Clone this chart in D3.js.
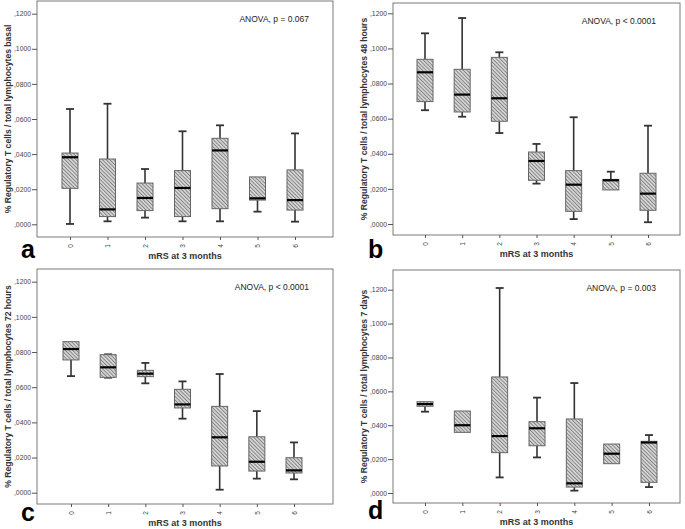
<!DOCTYPE html>
<html>
<head>
<meta charset="utf-8">
<script src="https://cdnjs.cloudflare.com/ajax/libs/d3/7.8.5/d3.min.js"></script>
<style>
  body { margin: 0; background: #fff; }
  svg { display: block; font-family: "Liberation Sans", Arial, sans-serif; }
</style>
</head>
<body>
<svg id="chart" width="685" height="529"></svg>
<script>
// mRS categories
var categories = ["0", "1", "2", "3", "4", "5", "6"];
var yTicks = [0, 0.02, 0.04, 0.06, 0.08, 0.10, 0.12];

// five-number summaries per category: [min, q1, median, q3, max]
var basal = [
  [0.0002, 0.0205, 0.0382, 0.0406, 0.0657],
  [0.0017, 0.0044, 0.0085, 0.0372, 0.0687],
  [0.0038, 0.0078, 0.0150, 0.0235, 0.0315],
  [0.0017, 0.0044, 0.0207, 0.0306, 0.0530],
  [0.0017, 0.0089, 0.0421, 0.0490, 0.0564],
  [0.0072, 0.0138, 0.0148, 0.0270, 0.0270],
  [0.0015, 0.0081, 0.0138, 0.0310, 0.0518]
];
var hours48 = [
  [0.0648, 0.0697, 0.0864, 0.0938, 0.1086],
  [0.0611, 0.0638, 0.0737, 0.0881, 0.1173],
  [0.0518, 0.0585, 0.0716, 0.0949, 0.0978],
  [0.0230, 0.0249, 0.0359, 0.0410, 0.0456],
  [0.0028, 0.0072, 0.0224, 0.0304, 0.0608],
  [0.0194, 0.0194, 0.0249, 0.0254, 0.0298],
  [0.0010, 0.0078, 0.0173, 0.0289, 0.0560]
];
var hours72 = [
  [0.0663, 0.0755, 0.0817, 0.0859, 0.0859],
  [0.0654, 0.0656, 0.0713, 0.0785, 0.0787],
  [0.0622, 0.0660, 0.0677, 0.0696, 0.0738],
  [0.0421, 0.0482, 0.0502, 0.0588, 0.0633],
  [0.0017, 0.0152, 0.0315, 0.0491, 0.0675],
  [0.0080, 0.0123, 0.0176, 0.0318, 0.0464],
  [0.0076, 0.0112, 0.0127, 0.0199, 0.0286]
];
var days7 = [
  [0.0480, 0.0512, 0.0525, 0.0539, 0.0539],
  [0.0358, 0.0358, 0.0400, 0.0484, 0.0484],
  [0.0092, 0.0238, 0.0336, 0.0685, 0.1210],
  [0.0210, 0.0279, 0.0382, 0.0421, 0.0563],
  [0.0014, 0.0035, 0.0057, 0.0437, 0.0649],
  [0.0173, 0.0173, 0.0232, 0.0289, 0.0289],
  [0.0035, 0.0063, 0.0298, 0.0305, 0.0342]
];

var panels = [
  { letter: "a", data: basal, ytitle: "% Regulatory T cells / total lymphocytes basal", anova: "ANOVA, p = 0.067",
    frame: [37, 1, 333, 237], y0: 224.3, y12: 13.7, x0: 70, x6: 295, lx: 21, ly: 258, tx: 8 },
  { letter: "b", data: hours48, ytitle: "% Regulatory T cells / total lymphocytes 48 hours", anova: "ANOVA, p < 0.0001",
    frame: [393, 3, 680, 235], y0: 224, y12: 13.3, x0: 425, x6: 648, lx: 368, ly: 258, tx: 364 },
  { letter: "c", data: hours72, ytitle: "% Regulatory T cells / total lymphocytes 72 hours", anova: "ANOVA, p < 0.0001",
    frame: [37, 269, 333, 504], y0: 492.7, y12: 281.7, x0: 71, x6: 294, lx: 21, ly: 521, tx: 8 },
  { letter: "d", data: days7, ytitle: "% Regulatory T cells / total lymphocytes 7 days", anova: "ANOVA, p = 0.003",
    frame: [393, 270, 680, 503], y0: 493, y12: 289.7, x0: 425, x6: 649, lx: 368, ly: 519, tx: 364 }
];

var svg = d3.select("#chart");

// hatched fill like the SPSS boxes
var pat = svg.append("defs").append("pattern")
  .attr("id", "hatch")
  .attr("patternUnits", "userSpaceOnUse")
  .attr("width", 2.6).attr("height", 2.6)
  .attr("patternTransform", "rotate(-45)");
pat.append("rect").attr("width", 2.6).attr("height", 2.6).attr("fill", "#d9d9d9");
pat.append("line").attr("x1", 0.5).attr("y1", 0).attr("x2", 0.5).attr("y2", 2.6)
  .attr("stroke", "#7a7a7a").attr("stroke-width", 0.9);

var fmtTick = function (d) { return "," + d3.format(".4f")(d).slice(2); };

panels.forEach(function (p) {
  var g = svg.append("g");
  var f = p.frame;

  var y = d3.scaleLinear().domain([0, 0.12]).range([p.y0, p.y12]);
  var x = d3.scalePoint().domain(categories).range([p.x0, p.x6]);

  // frame
  g.append("rect")
    .attr("x", f[0]).attr("y", f[1])
    .attr("width", f[2] - f[0]).attr("height", f[3] - f[1])
    .attr("fill", "none").attr("stroke", "#7a7a7a").attr("stroke-width", 1);

  // y axis
  var yAxis = d3.axisLeft(y).tickValues(yTicks).tickFormat(fmtTick).tickSize(5).tickPadding(1);
  var ya = g.append("g").attr("transform", "translate(" + f[0] + ",0)").call(yAxis);
  ya.select(".domain").remove();
  ya.selectAll("line").attr("stroke", "#555");
  ya.selectAll("text").attr("font-size", 6.8).attr("fill", "#444");

  // x axis
  var xAxis = d3.axisBottom(x).tickSize(3).tickPadding(2);
  var xa = g.append("g").attr("transform", "translate(0," + f[3] + ")").call(xAxis);
  xa.select(".domain").remove();
  xa.selectAll("line").attr("stroke", "#555");
  xa.selectAll("text")
    .attr("font-size", 6.5).attr("fill", "#444")
    .attr("transform", "rotate(-90)")
    .attr("text-anchor", "middle")
    .attr("x", -9).attr("y", 0).attr("dy", "0.35em");

  var boxW = 16, capW = 8;
  var boxes = g.selectAll(".box").data(p.data).enter().append("g")
    .attr("transform", function (d, i) { return "translate(" + x(categories[i]) + ",0)"; });

  // whiskers
  boxes.append("line")
    .attr("x1", 0).attr("x2", 0)
    .attr("y1", function (d) { return y(d[4]); })
    .attr("y2", function (d) { return y(d[3]); })
    .attr("stroke", "#333").attr("stroke-width", 1.6);
  boxes.append("line")
    .attr("x1", 0).attr("x2", 0)
    .attr("y1", function (d) { return y(d[1]); })
    .attr("y2", function (d) { return y(d[0]); })
    .attr("stroke", "#333").attr("stroke-width", 1.6);
  // caps
  boxes.filter(function (d) { return d[4] > d[3]; }).append("line")
    .attr("x1", -capW / 2).attr("x2", capW / 2)
    .attr("y1", function (d) { return y(d[4]); })
    .attr("y2", function (d) { return y(d[4]); })
    .attr("stroke", "#333").attr("stroke-width", 1.8);
  boxes.filter(function (d) { return d[0] < d[1]; }).append("line")
    .attr("x1", -capW / 2).attr("x2", capW / 2)
    .attr("y1", function (d) { return y(d[0]); })
    .attr("y2", function (d) { return y(d[0]); })
    .attr("stroke", "#333").attr("stroke-width", 1.8);

  // box
  boxes.append("rect")
    .attr("x", -boxW / 2).attr("width", boxW)
    .attr("y", function (d) { return y(d[3]); })
    .attr("height", function (d) { return Math.max(1, y(d[1]) - y(d[3])); })
    .attr("fill", "url(#hatch)")
    .attr("stroke", "#666").attr("stroke-width", 1);

  // median
  boxes.append("line")
    .attr("x1", -boxW / 2).attr("x2", boxW / 2)
    .attr("y1", function (d) { return y(d[2]); })
    .attr("y2", function (d) { return y(d[2]); })
    .attr("stroke", "#000").attr("stroke-width", 2.2);

  // texts
  g.append("text")
    .attr("x", f[2] - 24).attr("y", f[1] + 21)
    .attr("text-anchor", "end")
    .attr("font-size", 8.5).attr("fill", "#222")
    .text(p.anova);

  g.append("text")
    .attr("transform", "translate(" + p.tx + "," + ((f[1] + f[3]) / 2) + ") rotate(-90)")
    .attr("text-anchor", "middle").attr("dy", "0.35em")
    .attr("font-size", 8.6).attr("font-weight", "bold").attr("fill", "#333")
    .text(p.ytitle);

  g.append("text")
    .attr("x", (f[0] + f[2]) / 2).attr("y", f[3] + 22)
    .attr("text-anchor", "middle")
    .attr("font-size", 9).attr("font-weight", "bold").attr("fill", "#333")
    .text("mRS at 3 months");

  g.append("text")
    .attr("x", p.lx).attr("y", p.ly)
    .attr("font-size", 25).attr("font-weight", "bold").attr("fill", "#000")
    .text(p.letter);
});
</script>
</body>
</html>
